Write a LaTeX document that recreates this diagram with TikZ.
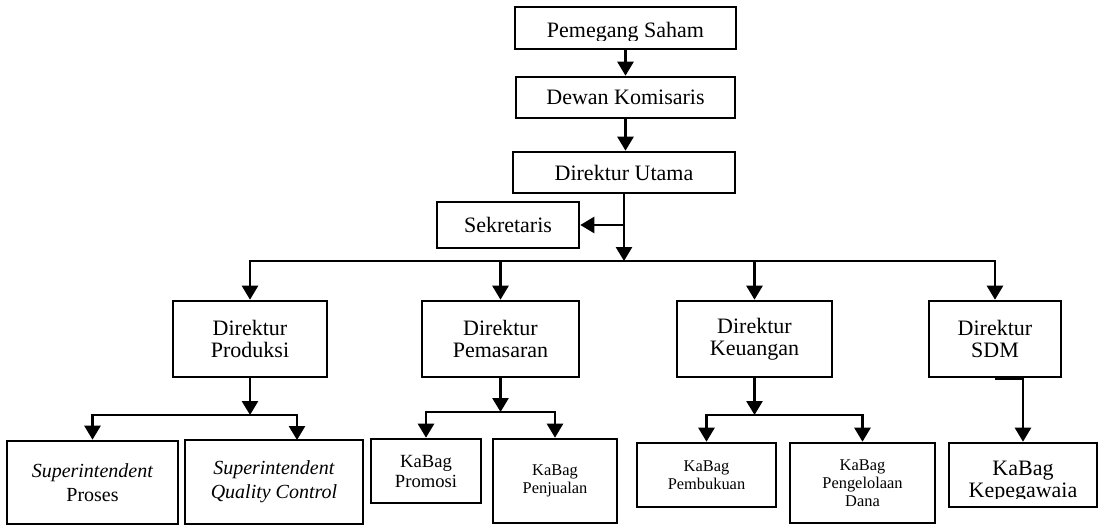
\documentclass[tikz,border=0pt]{standalone}
\usepackage{fontspec}
\setmainfont{Liberation Serif}
\usetikzlibrary{arrows.meta,positioning}

\begin{document}
\begin{tikzpicture}[
    x=0.5pt, y=-0.5pt,
    >={Triangle[length=7pt,width=8pt]},
    box/.style={draw, line width=1.3pt, inner sep=0pt, align=center},
    link/.style={line width=1.3pt},
    txtA/.style={font=\fontsize{11}{11}\selectfont},
    txtB/.style={font=\fontsize{10}{12}\selectfont},
    txtC/.style={font=\fontsize{9.3}{10}\selectfont},
    txtD/.style={font=\fontsize{8.2}{9}\selectfont}
]
    \useasboundingbox (0,0) rectangle (1098,525);

    % === BOARD AND TOP MANAGEMENT ===
    \node[box, minimum width=110.5pt, minimum height=21pt] (saham) at (625.5,28) {};
    \begin{scope}
        \clip (saham.north west) rectangle ([yshift=5pt]saham.south east);
        \node[txtA, anchor=base] (sahamtext) at (625.5,37) {Pemegang Saham};
    \end{scope}
    \node[box, txtA, minimum width=109.5pt, minimum height=20.5pt] (dewan) at (625.5,97.5) {Dewan Komisaris};
    \node[box, txtA, minimum width=111pt, minimum height=20.5pt] (utama) at (624,172.5) {Direktur Utama};
    \node[box, txtA, minimum width=71pt, minimum height=23pt] (sekr) at (508,225) {Sekretaris};

    \draw[link, ->] (saham.south) -- (saham.south |- dewan.north);
    \draw[link, ->] (dewan.south) -- (dewan.south |- utama.north);
    \coordinate (hub) at (624,261);
    \draw[link, ->] (utama.south) -- (hub);
    \draw[link, ->] (utama.south |- sekr.east) -- (sekr.east);

    % === DIRECTORS ===
    \node[box, txtA, minimum width=77pt, minimum height=38pt] (produksi) at (250,339) {Direktur\\Produksi};
    \node[box, txtA, minimum width=78.5pt, minimum height=38pt] (pemasaran) at (500.5,339) {Direktur\\Pemasaran};
    \node[box, txtA, minimum width=77.5pt, minimum height=38pt] (keuangan) at (754.5,339) {Direktur\\Keuangan};
    \node[box, txtA, minimum width=66pt, minimum height=38pt] (sdm) at (995,339) {Direktur\\SDM};

    \draw[link, ->] (hub) -| (produksi.north);
    \draw[link, ->] (hub) -| (sdm.north);
    \draw[link, ->] (pemasaran.north |- hub) -- (pemasaran.north);
    \draw[link, ->] (keuangan.north |- hub) -- (keuangan.north);

    % === PRODUKSI ===
    \node[box, txtB, minimum width=85.5pt, minimum height=41.5pt] (proses) at (92.5,482.5) {\textit{Superintendent}\\Proses};
    \node[box, txtB, minimum width=89pt, minimum height=42pt] (qc) at (274,482) {\textit{Superintendent}\\\textit{Quality Control}};
    \coordinate (prodhub) at (250,415);
    \coordinate (qcin) at (297,440);
    \draw[link, ->] (produksi.south) -- (prodhub);
    \draw[link, ->] (prodhub) -| (proses.north);
    \draw[link, ->] (prodhub) -| (qcin);

    % === PEMASARAN ===
    \node[box, txtC, minimum width=55pt, minimum height=32pt] (promosi) at (426,471) {KaBag\\Promosi};
    \node[box, txtD, minimum width=62pt, minimum height=42pt] (penjualan) at (555,481) {KaBag\\Penjualan};
    \coordinate (pmshub) at (500.5,412);
    \draw[link, ->] (pemasaran.south) -- (pmshub);
    \draw[link, ->] (pmshub) -| (promosi.north);
    \draw[link, ->] (pmshub) -| (penjualan.north);

    % === KEUANGAN ===
    \node[box, txtD, minimum width=69.5pt, minimum height=32pt] (pembukuan) at (706.5,475) {KaBag\\Pembukuan};
    \node[box, txtD, minimum width=72.5pt, minimum height=40pt] (dana) at (862.5,483) {KaBag\\Pengelolaan\\Dana};
    \coordinate (keuhub) at (754.5,415);
    \draw[link, ->] (keuangan.south) -- (keuhub);
    \draw[link, ->] (keuhub) -| (pembukuan.north);
    \draw[link, ->] (keuhub) -| (dana.north);

    % === SDM ===
    \node[box, minimum width=74pt, minimum height=32pt] (kepeg) at (1023,475) {};
    \begin{scope}
        \clip (kepeg.north west) rectangle ([yshift=5pt]kepeg.south east);
        \node[txtA, align=center, inner sep=0pt, anchor=north] (kepegtext) at (1023,461) {KaBag\\Kepegawaia};
    \end{scope}
    \draw[link, ->] (sdm.south) -| (kepeg.north);
\end{tikzpicture}
\end{document}
